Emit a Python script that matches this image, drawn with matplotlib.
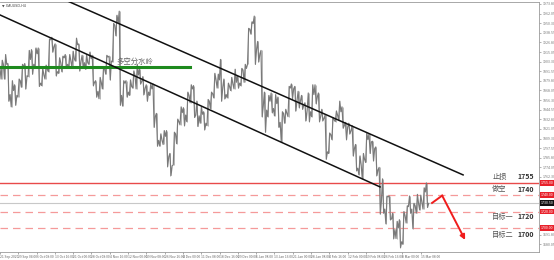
import matplotlib.pyplot as plt
import matplotlib.transforms as mtransforms
import numpy as np

plt.rcParams['font.family'] = ['Noto Sans CJK SC', 'DejaVu Sans']

# XAUUSD daily high / low / close, 21 Sep 2020 - 18 Mar 2021 (trading days)
first_open = 1895
highs = [1905, 1912, 1901, 1880, 1875, 1882, 1900, 1901, 1917, 1918,
         1920, 1920, 1895, 1899, 1931, 1933, 1925, 1908, 1910, 1912,
         1912, 1916, 1932, 1925, 1911, 1912, 1915, 1911, 1880, 1884,
         1896, 1911, 1910, 1950, 1960, 1965, 1880, 1880, 1881, 1892,
         1900, 1894, 1885, 1875, 1876, 1876, 1840, 1815, 1819, 1819,
         1791, 1817, 1833, 1848, 1847, 1866, 1875, 1874, 1855, 1848,
         1842, 1857, 1866, 1889, 1888, 1906, 1882, 1877, 1884, 1894,
         1886, 1895, 1900, 1944, 1952, 1959, 1928, 1917, 1866, 1862,
         1865, 1863, 1860, 1842, 1845, 1873, 1876, 1873, 1867, 1862,
         1853, 1865, 1875, 1875, 1865, 1845, 1838, 1816, 1835, 1843,
         1855, 1848, 1829, 1828, 1825, 1802, 1788, 1791, 1816, 1815,
         1806, 1799, 1774, 1760, 1739, 1739, 1718, 1708, 1710, 1720,
         1727, 1739, 1730, 1741, 1740, 1749, 1755]
lows = [1882, 1882, 1855, 1848, 1850, 1860, 1872, 1870, 1885, 1888,
        1896, 1873, 1874, 1882, 1891, 1915, 1886, 1889, 1891, 1895,
        1896, 1896, 1904, 1892, 1895, 1894, 1900, 1874, 1860, 1858,
        1870, 1888, 1881, 1903, 1935, 1850, 1849, 1860, 1862, 1871,
        1870, 1876, 1863, 1855, 1862, 1823, 1800, 1800, 1802, 1775,
        1764, 1777, 1803, 1826, 1825, 1830, 1853, 1835, 1824, 1828,
        1820, 1825, 1846, 1859, 1871, 1855, 1858, 1859, 1868, 1870,
        1871, 1874, 1878, 1900, 1937, 1900, 1903, 1836, 1817, 1836,
        1841, 1837, 1823, 1805, 1828, 1836, 1858, 1843, 1847, 1845,
        1831, 1830, 1836, 1852, 1830, 1831, 1784, 1791, 1808, 1830,
        1832, 1822, 1808, 1815, 1788, 1770, 1765, 1760, 1780, 1791,
        1782, 1764, 1717, 1718, 1705, 1710, 1687, 1687, 1676, 1680,
        1706, 1718, 1699, 1718, 1722, 1723, 1725]
closes = [1900, 1900, 1863, 1868, 1862, 1880, 1897, 1886, 1906, 1900,
          1913, 1877, 1887, 1894, 1930, 1922, 1891, 1902, 1908, 1900,
          1904, 1907, 1924, 1904, 1902, 1902, 1907, 1878, 1867, 1878,
          1894, 1909, 1904, 1948, 1951, 1862, 1877, 1866, 1873, 1886,
          1887, 1879, 1871, 1866, 1870, 1836, 1807, 1807, 1812, 1787,
          1776, 1815, 1830, 1841, 1838, 1862, 1870, 1838, 1837, 1839,
          1828, 1855, 1864, 1881, 1881, 1872, 1863, 1873, 1876, 1878,
          1877, 1893, 1895, 1943, 1950, 1918, 1913, 1849, 1844, 1855,
          1846, 1852, 1829, 1840, 1840, 1871, 1870, 1856, 1855, 1850,
          1844, 1842, 1863, 1860, 1836, 1834, 1793, 1814, 1832, 1838,
          1842, 1825, 1823, 1819, 1797, 1773, 1777, 1784, 1808, 1805,
          1797, 1771, 1733, 1723, 1738, 1711, 1698, 1700, 1683, 1715,
          1726, 1723, 1727, 1730, 1731, 1744, 1730]

# trade plan levels
stop_loss = 1755
short_entry = 1740
target_one = 1720
target_two = 1700
last_price = 1730.5
pivot_level = 1897

# channel lines (day index, price)
upper_channel = [(19.3, 1978.7), (137.2, 1764.8)]
lower_channel = [(0.0, 1960.4), (112.6, 1750.1)]
pivot_end_day = 56.3

# projected move: pullback to the entry, then down
arrow_days = [128.0, 131.0, 137.8]
arrow_prices = [1730.5, 1739.5, 1685.3]

ytick_values = [1973.80, 1962.05, 1950.30, 1938.55, 1926.80, 1915.05, 1903.30,
                1891.55, 1879.80, 1868.05, 1856.30, 1844.55, 1832.80, 1821.05,
                1809.30, 1797.55, 1785.80, 1774.05, 1762.30, 1691.80, 1680.05]
xtick_labels = ["21 Sep 2020", "29 Sep 04:00", "6 Oct 08:00", "13 Oct 16:00",
                "21 Oct 00:00", "28 Oct 08:00", "4 Nov 16:00", "12 Nov 00:00",
                "19 Nov 08:00", "26 Nov 16:00", "4 Dec 00:00", "11 Dec 08:00",
                "18 Dec 16:00", "29 Dec 00:00", "6 Jan 08:00", "13 Jan 16:00",
                "21 Jan 00:00", "28 Jan 08:00", "4 Feb 16:00", "12 Feb 00:00",
                "19 Feb 08:00", "26 Feb 16:00", "8 Mar 00:00", "15 Mar 08:00"]

# build a zigzag path through each day's open/high/low/close
px, py = [], []
prev = first_open
for i, (h, l, c) in enumerate(zip(highs, lows, closes)):
    if c >= prev:
        seq = [prev, l, h, c]
    else:
        seq = [prev, h, l, c]
    px += [i, i + 0.33, i + 0.67, i + 1]
    py += seq
    prev = c

fig = plt.figure(figsize=(5.54, 2.60), dpi=100)
ax = fig.add_axes([0.0, 0.031, 0.973, 0.9615])
ax.set_xlim(0, 159.7)
ax.set_ylim(1670.6, 1976.3)

ax.plot(px, py, color='#7a7a7a', lw=0.85, zorder=3)
ax.vlines(np.arange(len(highs)) + 0.5, lows, highs, color='#9a9a9a', lw=0.5, zorder=2)

# levels
ax.axhline(stop_loss, color='#e84a4a', lw=1.0, zorder=2)
for lvl in (short_entry, target_one, target_two):
    ax.axhline(lvl, color='#f59a9a', lw=0.9, ls=(0, (6, 4)), zorder=2)
ax.axhline(last_price, color='#c8c8c8', lw=0.8, zorder=1)

ax.plot([0, pivot_end_day], [pivot_level, pivot_level], color='#1e8a1e', lw=2.2, zorder=4)
ax.text(34.5, pivot_level + 1.5, '多空分水岭', fontsize=5.3, color='#666666',
        va='bottom', ha='left', zorder=5)

for seg in (upper_channel, lower_channel):
    ax.plot([seg[0][0], seg[1][0]], [seg[0][1], seg[1][1]], color='#111111', lw=1.1, zorder=4)

ax.plot(arrow_days[:2], arrow_prices[:2], color='#f01c1c', lw=1.4, zorder=5)
ax.annotate('', xy=(arrow_days[2], arrow_prices[2]), xytext=(arrow_days[1], arrow_prices[1]),
            arrowprops=dict(arrowstyle='-|>', color='#f01c1c', lw=1.4,
                            mutation_scale=7, shrinkA=0, shrinkB=0), zorder=5)

# plan labels on the right
trans_r = mtransforms.blended_transform_factory(ax.transAxes, ax.transData)
plan = [('止损', stop_loss, 4.3), ('做空', short_entry, 4.3),
        ('目标一', target_one, -3.6), ('目标二', target_two, -5.0)]
for name, lvl, off in plan:
    ax.annotate(name, xy=(0.913, lvl), xycoords=trans_r, xytext=(0, off),
                textcoords='offset points', fontsize=5.2, color='#555555',
                va='center', ha='left')
    ax.annotate(str(lvl), xy=(0.96, lvl), xycoords=trans_r, xytext=(0, off),
                textcoords='offset points', fontsize=5, color='#333333',
                fontweight='bold', va='center', ha='left')

# axes styling
ax.spines['left'].set_visible(False)
for s in ('top', 'right', 'bottom'):
    ax.spines[s].set_color('#9a9a9a')
    ax.spines[s].set_linewidth(0.6)
ax.yaxis.tick_right()
ax.set_yticks(ytick_values)
ax.set_yticklabels([f'{v:.2f}' for v in ytick_values])
ax.tick_params(axis='y', labelsize=2.6, colors='#777777', length=1.5, width=0.4, pad=1)
ax.set_xticks(np.arange(len(xtick_labels)) * 5.42)
ax.set_xticklabels(xtick_labels, ha='left')
ax.tick_params(axis='x', labelsize=2.4, colors='#666666', length=1.5, width=0.4, pad=1)

# highlighted price boxes on the axis
for lvl in (stop_loss, short_entry, target_one, target_two):
    ax.text(1.004, lvl, f'{lvl:.2f}', transform=trans_r, fontsize=2.6, color='white',
            va='center', ha='left', bbox=dict(boxstyle='square,pad=0.2', fc='#e8202a', ec='none'))
ax.text(1.004, last_price, f'{last_price:.2f}', transform=trans_r, fontsize=2.6, color='white',
        va='center', ha='left', bbox=dict(boxstyle='square,pad=0.2', fc='#111111', ec='none'))

ax.text(0.004, 0.995, '▼ XAUUSD,H4', transform=ax.transAxes, fontsize=2.4,
        color='#444444', va='top', ha='left', family=['DejaVu Sans'])

fig.savefig('out.png', dpi=100, facecolor='white')
